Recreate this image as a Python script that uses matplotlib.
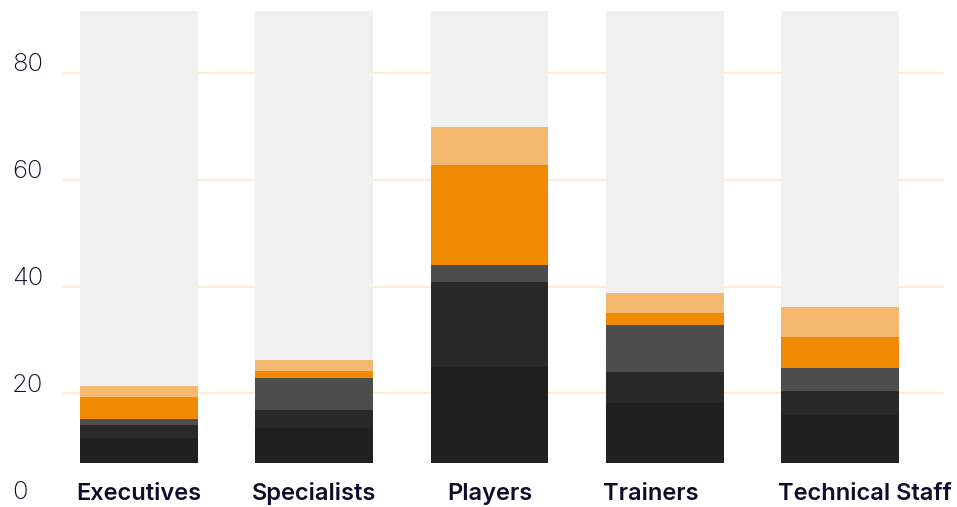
import matplotlib.pyplot as plt
import matplotlib.transforms as mtransforms
import numpy as np

# categories and stacked segment values (bottom to top)
categories = ['Executives', 'Specialists', 'Players', 'Trainers', 'Technical Staff']
seg1 = [11.7, 13.5, 24.9, 18.2, 15.9]
seg2 = [2.4, 3.4, 15.9, 5.8, 4.5]
seg3 = [1.1, 6.0, 3.2, 8.8, 4.3]
seg4 = [4.1, 1.3, 18.7, 2.3, 5.8]
seg5 = [2.1, 2.1, 7.1, 3.6, 5.6]
total = [100, 100, 100, 100, 100]
y_ticks = [0, 20, 40, 60, 80]

seg_colors = ['#202020', '#292929', '#4d4d4d', '#f08a00', '#f5b86f']
text_color = '#0d0d2b'

fig = plt.figure(figsize=(9.57, 5.07), dpi=100)
ax = fig.add_axes([62 / 957, 43.7 / 507, 882 / 957, 452.3 / 507])

x = np.arange(len(categories))
width = 0.673

ax.bar(x, total, width=width, color='#f0f0f0', zorder=1)
bottom = np.zeros(len(categories))
for vals, col in zip([seg1, seg2, seg3, seg4, seg5], seg_colors):
    ax.bar(x, vals, width=width, bottom=bottom, color=col, zorder=2)
    bottom += np.array(vals)

ax.set_xlim(-0.439, 4.593)
ax.set_ylim(6.9, 91.6)

# gridlines behind the bars
for t in y_ticks[1:]:
    ax.axhline(t, color='#fdebd9', lw=1.5, zorder=0)

for s in ax.spines.values():
    s.set_visible(False)
ax.set_xticks([])
ax.set_yticks([])

# y tick labels, sitting a little above their gridline
ytrans = mtransforms.offset_copy(ax.get_yaxis_transform(), fig=fig, x=0, y=8, units='dots')
for t in y_ticks:
    ax.text(-0.0567, t, str(t), transform=ytrans, ha='left', va='center',
            fontsize=18.5, fontweight='light', color=text_color, family='Inter', clip_on=False)

# category labels
align = ['center', 'center', 'center', 'left', 'left']
xtrans = ax.get_xaxis_transform()
for i, (cat, ha) in enumerate(zip(categories, align)):
    xpos = i if ha == 'center' else i - width / 2 - 0.015
    ax.text(xpos, -0.081, cat, transform=xtrans, ha=ha, va='baseline',
            fontsize=17, fontweight='semibold', color=text_color, family='Inter', clip_on=False)

fig.savefig('out.png', dpi=100)
